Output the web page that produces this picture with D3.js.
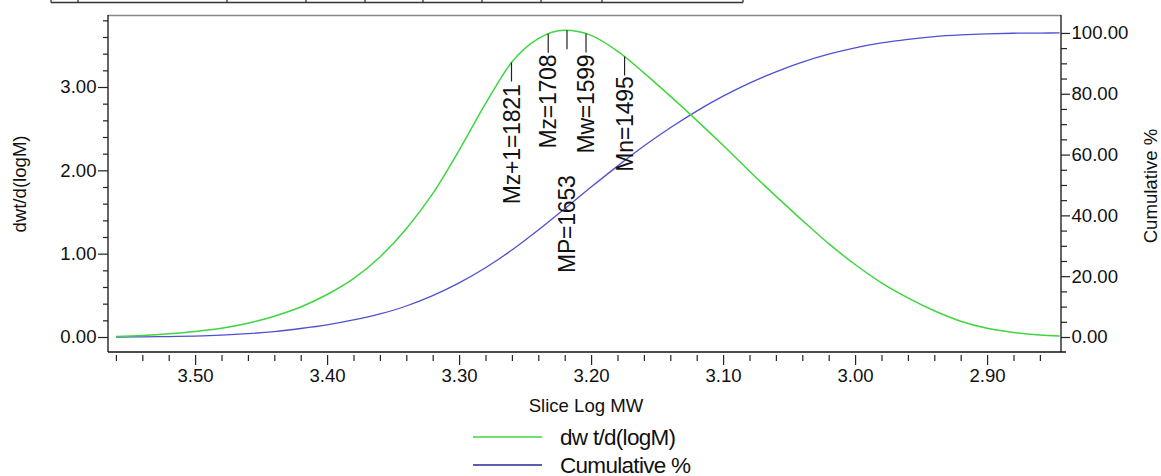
<!DOCTYPE html>
<html><head><meta charset="utf-8">
<script src="https://cdn.jsdelivr.net/npm/d3@7/dist/d3.min.js"></script>
<style>
html,body{margin:0;padding:0;background:#fff;}
svg{display:block;font-family:"Liberation Sans",Arial,sans-serif;}
</style></head><body>
<svg id="chart" width="1161" height="476"></svg>
<script>
// ---- data ----
const logMW = [3.56,3.54,3.52,3.50,3.48,3.46,3.44,3.42,3.40,3.38,3.36,3.34,3.32,3.30,3.28,3.26,3.24,3.22,3.20,3.18,3.16,3.14,3.12,3.10,3.08,3.06,3.04,3.02,3.00,2.98,2.96,2.94,2.92,2.90,2.88,2.86,2.845];
const dwtdlogM = [0.005,0.018,0.038,0.066,0.105,0.165,0.25,0.36,0.51,0.70,0.96,1.30,1.72,2.24,2.80,3.30,3.58,3.68,3.62,3.43,3.17,2.89,2.60,2.30,1.99,1.69,1.40,1.12,0.87,0.65,0.47,0.315,0.19,0.105,0.055,0.025,0.012];
const cumulative = [0,0.05,0.15,0.3,0.6,1.1,1.8,2.8,4.0,5.6,7.6,10.2,13.6,17.8,22.8,28.6,35.2,42.2,49.3,56.2,62.8,68.8,74.3,79.2,83.5,87.2,90.4,93.0,95.1,96.7,97.9,98.8,99.35,99.7,99.9,99.97,100];
const xMajorTicks = [3.50,3.40,3.30,3.20,3.10,3.00,2.90];
const leftMajorTicks = [0,1,2,3];
const rightMajorTicks = [0,20,40,60,80,100];
const markerNames = ["Mz+1","Mz","MP","Mw","Mn"];
const markerValues = [1821,1708,1653,1599,1495];
const legendLabels = ["dw t/d(logM)","Cumulative %"];
const axisTitles = {x:"Slice Log MW", left:"dwt/d(logM)", right:"Cumulative %"};

// ---- layout ----
const L = 108, R = 1061, T = 15, B = 352;
const green = "#3fd63f", blue = "#5050d2";
const fTick = "18.6px";
const svg = d3.select("#chart");

// cut-off table fragment at the very top
const tableX = [51,78,227,306,365,423,482,541,602,743];
svg.append("line").attr("x1",51).attr("x2",743).attr("y1",2.5).attr("y2",2.5).attr("stroke","#333").attr("stroke-width",1.3);
svg.selectAll(".tv").data(tableX).enter().append("line")
  .attr("x1",d=>d).attr("x2",d=>d).attr("y1",0).attr("y2",2.5).attr("stroke","#333").attr("stroke-width",1.3);

const x = d3.scaleLinear().domain([3.566, 2.844]).range([L, R]);
const yL = d3.scaleLinear().domain([-0.18, 3.864]).range([B, T]);
const yR = d3.scaleLinear().domain([-4.93, 105.9]).range([B, T]);

// frame
svg.append("line").attr("x1",L).attr("x2",R).attr("y1",T+0.5).attr("y2",T+0.5).attr("stroke","#888").attr("stroke-width",1.5);
svg.append("line").attr("x1",L).attr("x2",R+5).attr("y1",B).attr("y2",B).attr("stroke","#111").attr("stroke-width",1.5);
svg.append("line").attr("x1",L).attr("x2",L).attr("y1",T).attr("y2",B).attr("stroke","#111").attr("stroke-width",1.3);
svg.append("line").attr("x1",R).attr("x2",R).attr("y1",T).attr("y2",B).attr("stroke","#111").attr("stroke-width",1.3);

function styleAxis(g){
  g.select(".domain").remove();
  g.selectAll(".tick line").attr("stroke","#222").attr("stroke-width",1.2);
  g.selectAll("text").attr("fill","#111").style("font-size",fTick);
}
// left axis
const leftMinor = d3.range(0.2, 3.81, 0.2).filter(v => Math.abs(v - Math.round(v)) > 1e-6);
svg.append("g").attr("transform",`translate(${L},0)`)
  .call(d3.axisLeft(yL).tickValues(leftMinor).tickSize(5).tickFormat(""))
  .call(styleAxis);
svg.append("g").attr("transform",`translate(${L},0)`)
  .call(d3.axisLeft(yL).tickValues(leftMajorTicks).tickSize(10).tickPadding(1.5).tickFormat(d3.format(".2f")))
  .call(styleAxis);
// right axis
const rightMinor = d3.range(5, 101, 5).filter(v => v % 20 !== 0);
svg.append("g").attr("transform",`translate(${R},0)`)
  .call(d3.axisRight(yR).tickValues(rightMinor).tickSize(6).tickFormat(""))
  .call(styleAxis);
svg.append("g").attr("transform",`translate(${R},0)`)
  .call(d3.axisRight(yR).tickValues(rightMajorTicks).tickSize(9).tickPadding(1.5).tickFormat(d3.format(".2f")))
  .call(styleAxis);
// bottom axis (ticks hang below with a small gap)
const xMinor = d3.range(0, 36).map(i => +(3.56 - i*0.02).toFixed(2)).filter(v => Math.abs(v*10 - Math.round(v*10)) > 1e-6 && v > 2.845);
svg.append("g").attr("transform",`translate(0,${B+3})`)
  .call(d3.axisBottom(x).tickValues(xMinor).tickSize(6).tickFormat(""))
  .call(styleAxis);
svg.append("g").attr("transform",`translate(0,${B+3})`)
  .call(d3.axisBottom(x).tickValues(xMajorTicks).tickSize(10).tickPadding(3.5).tickFormat(d3.format(".2f")))
  .call(styleAxis);

// axis titles
svg.append("text").attr("x",586).attr("y",412).attr("text-anchor","middle").style("font-size",fTick).attr("fill","#111").text(axisTitles.x);
svg.append("text").attr("transform","translate(26,184) rotate(-90)").attr("text-anchor","middle").style("font-size",fTick).attr("fill","#111").text(axisTitles.left);
svg.append("text").attr("transform","translate(1157,186) rotate(-90)").attr("text-anchor","middle").style("font-size",fTick).attr("fill","#111").text(axisTitles.right);

// curves
const idx = d3.range(logMW.length);
const gLine = d3.line().x(i=>x(logMW[i])).y(i=>yL(dwtdlogM[i])).curve(d3.curveMonotoneX);
const bLine = d3.line().x(i=>x(logMW[i])).y(i=>yR(cumulative[i])).curve(d3.curveMonotoneX);
svg.append("path").attr("d",bLine(idx)).attr("fill","none").attr("stroke",blue).attr("stroke-width",1.3);
const gPath = svg.append("path").attr("d",gLine(idx)).attr("fill","none").attr("stroke",green).attr("stroke-width",1.5);

// find y on green curve for a pixel x
function yOnPath(pathNode, px){
  const len = pathNode.getTotalLength();
  let lo = 0, hi = len;
  for (let k=0;k<40;k++){
    const mid=(lo+hi)/2, p=pathNode.getPointAtLength(mid);
    if (p.x < px) lo = mid; else hi = mid;
  }
  return pathNode.getPointAtLength((lo+hi)/2).y;
}

// markers
const markerGap = [3,2,126,2,1];
markerNames.forEach((n,i)=>{
  const px = x(Math.log10(markerValues[i]));
  const py = yOnPath(gPath.node(), px);
  const lineLen = 19;
  svg.append("line").attr("x1",px).attr("x2",px).attr("y1",py).attr("y2",py+lineLen).attr("stroke","#222").attr("stroke-width",1.2);
  svg.append("text").attr("transform",`translate(${px},${py+lineLen+markerGap[i]}) rotate(-90)`)
    .attr("text-anchor","end").attr("dy","0.36em")
    .style("font-size","23px").style("letter-spacing","-0.2px").attr("fill","#111")
    .text(`${n}=${markerValues[i]}`);
});

// legend
const legColors = [green, "#262694"];
legendLabels.forEach((lab,i)=>{
  const yy = 437 + i*28;
  svg.append("line").attr("x1",473).attr("x2",542).attr("y1",yy).attr("y2",yy).attr("stroke",legColors[i]).attr("stroke-width",1.5);
  svg.append("text").attr("x",560).attr("y",yy+7.5).style("font-size","22.5px").style("letter-spacing","-0.7px").attr("fill","#111").text(lab);
});
</script>
</body></html>
